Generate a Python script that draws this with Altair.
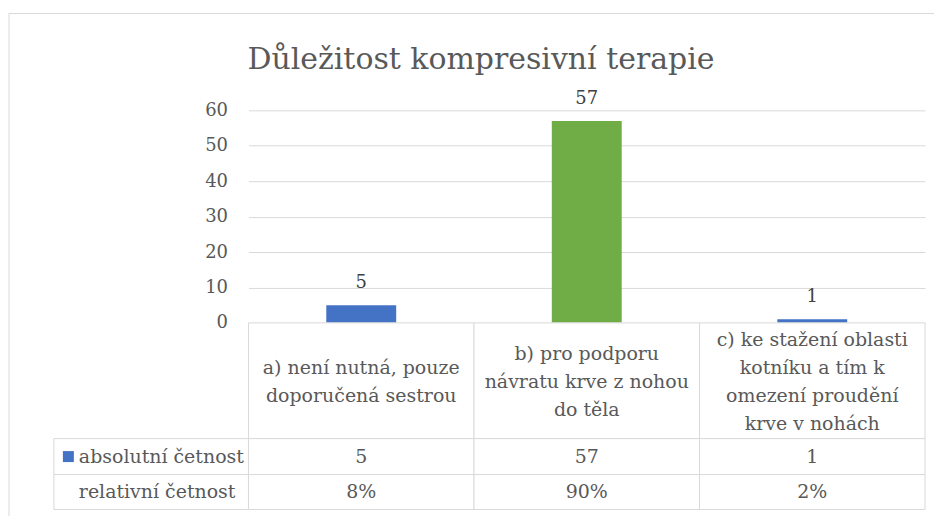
import altair as alt
import pandas as pd

# ---- data ----
keys = ["a", "b", "c"]
categories = [
    "a) není nutná, pouze\ndoporučená sestrou",
    "b) pro podporu\nnávratu krve z nohou\ndo těla",
    "c) ke stažení oblasti\nkotníku a tím k\nomezení proudění\nkrve v nohách",
]
absolute = [5, 57, 1]
relative = ["8%", "90%", "2%"]
bar_colors = ["#4472c4", "#70ad47", "#4472c4"]
row_labels = ["absolutní četnost", "relativní četnost"]
title_text = "Důležitost kompresivní terapie"
y_ticks = [0, 10, 20, 30, 40, 50, 60]

FONT = "DejaVu Serif"
GRID = "#d9d9d9"
TXT = "#595959"

W = 678
H_PLOT = 213
H_CAT = 116
H_ABS = 36
H_REL = 35
LINE_H = 28
FS = 19

df = pd.DataFrame({"key": keys, "cat": categories, "abs": absolute, "rel": relative})
one = pd.DataFrame({"t": [title_text]})

line_rows = []
for k, c in zip(keys, categories):
    parts = c.split("\n")
    for i, p in enumerate(parts):
        line_rows.append({"key": k, "line": p, "i": i, "n": len(parts)})
lines_df = pd.DataFrame(line_rows)

xenc = alt.X("key:N", scale=alt.Scale(domain=keys, paddingInner=0, paddingOuter=0), axis=None)
colenc = alt.Color("key:N", scale=alt.Scale(domain=keys, range=bar_colors), legend=None)
yaxis = alt.Axis(
    values=y_ticks, tickCount=7, title=None, domain=False, ticks=False,
    labelOverlap=False, labelPadding=21, labelFont=FONT, labelFontSize=18,
    labelColor=TXT, grid=True, gridColor=GRID, gridWidth=1,
)
yenc = alt.Y("abs:Q", scale=alt.Scale(domain=[0, 60], nice=False), axis=yaxis)


def left_border(y0, y1):
    return alt.Chart(one).mark_rule(color=GRID, strokeWidth=1).encode(
        x=alt.value(-240), y=alt.value(y0), y2=alt.value(y1)
    )


bars = alt.Chart(df).mark_bar(width=alt.RelativeBandSize(0.31)).encode(
    x=xenc, y=yenc, color=colenc
)
bar_labels = alt.Chart(df).mark_text(
    baseline="alphabetic", dy=-17, font=FONT, fontSize=18, color="#404040"
).encode(x=xenc, y=yenc, text="abs:Q")

title = alt.Chart(one).mark_text(
    font=FONT, fontSize=30, color=TXT, baseline="alphabetic", align="center"
).encode(x=alt.value(233), y=alt.value(-41), text="t:N")

top_border = alt.Chart(one).mark_rule(color=GRID, strokeWidth=1).encode(
    x=alt.value(-240), x2=alt.value(687), y=alt.value(-97)
)

top = alt.layer(bars, bar_labels, top_border, left_border(-97, H_PLOT), title).properties(
    width=W, height=H_PLOT
)

cell_style = dict(fill="white", stroke=GRID, strokeWidth=1)
text_style = dict(font=FONT, fontSize=FS, color=TXT, baseline="middle", align="center")

row1 = alt.layer(
    left_border(0, H_CAT),
    alt.Chart(df).mark_rect(**cell_style).encode(x=xenc, y=alt.value(0), y2=alt.value(H_CAT)),
    alt.Chart(lines_df)
    .transform_calculate(ypos=f"{H_CAT / 2 + 1} + (datum.i - (datum.n - 1) / 2) * {LINE_H}")
    .mark_text(**text_style)
    .encode(x=xenc, y=alt.Y("ypos:Q", scale=None, axis=None), text="line:N"),
).properties(width=W, height=H_CAT)


def value_row(field, label, h, with_key, extra=0):
    layers = [
        left_border(0, h + extra),
        alt.Chart(one).mark_rect(**cell_style).encode(
            x=alt.value(-195), x2=alt.value(0), y=alt.value(0), y2=alt.value(h)
        ),
        alt.Chart(df).mark_rect(**cell_style).encode(x=xenc, y=alt.value(0), y2=alt.value(h)),
        alt.Chart(df).mark_text(**text_style).encode(
            x=xenc, y=alt.value(h / 2), text=f"{field}:N"
        ),
        alt.Chart(pd.DataFrame({"t": [label]})).mark_text(
            font=FONT, fontSize=FS, color=TXT, baseline="middle", align="left"
        ).encode(x=alt.value(-170), y=alt.value(h / 2), text="t:N"),
    ]
    if with_key:
        layers.append(
            alt.Chart(one).mark_square(size=121, color=bar_colors[0], opacity=1).encode(
                x=alt.value(-180.5), y=alt.value(h / 2)
            )
        )
    return alt.layer(*layers).properties(width=W, height=h)


row2 = value_row("abs", row_labels[0], H_ABS, True)
row3 = value_row("rel", row_labels[1], H_REL, False, extra=7)

chart = (
    alt.vconcat(top, row1, row2, row3, spacing=0, bounds="flush")
    .configure_view(stroke=None)
    .properties(padding={"left": 0, "top": 4, "right": 0, "bottom": 0})
)

chart.save("out.html", embed_options={"renderer": "svg", "actions": False})
